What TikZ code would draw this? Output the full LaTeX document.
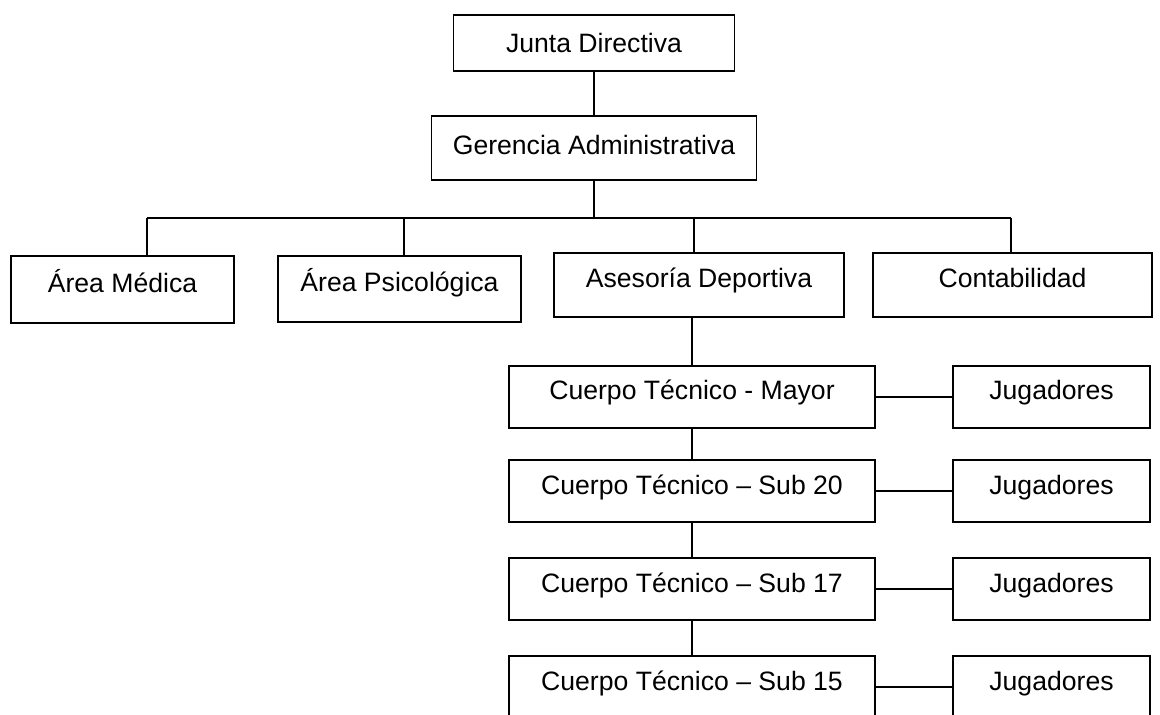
\documentclass[tikz,border=0pt]{standalone}
\usepackage{fontspec}
\setmainfont{Liberation Sans}
\tikzset{
  caja/.style={draw, line width=0.8pt, text height=10pt, text depth=7pt,
    font=\fontsize{13.3}{16}\selectfont},
  enlace/.style={line width=0.8pt},
}
\begin{document}
\begin{tikzpicture}[x=0.5pt, y=-0.5pt]
    \useasboundingbox (0,0) rectangle (1160,715);
    \clip (0,0) rectangle (1160,715);

    % Direccion
    \node[caja, minimum width=140.5pt, minimum height=28pt, text depth=0.5pt] (junta) at (594,43) {Junta Directiva};
    \node[caja, minimum width=162.5pt, minimum height=32pt, text depth=3.5pt] (gerencia) at (594,148) {Gerencia Administrativa};
    \draw[enlace] (junta.south) -- (gerencia.north);

    % Areas
    \node[caja, minimum width=111.5pt, minimum height=33.5pt] (medica) at (122.5,289.5) {Área Médica};
    \node[caja, minimum width=121.5pt, minimum height=33pt] (psico) at (399.5,289) {Área Psicológica};
    \node[caja, minimum width=145pt, minimum height=32pt] (asesoria) at (699,285) {Asesoría Deportiva};
    \node[caja, minimum width=139.5pt, minimum height=32pt] (conta) at (1012.5,285) {Contabilidad};

    \coordinate (b1) at (147,218);
    \coordinate (b2) at (404,218);
    \coordinate (b3) at (694,218);
    \coordinate (b4) at (1011,218);
    \draw[enlace] (b1) -- (b4);
    \draw[enlace] (gerencia.south) -- (gerencia.south |- b1);
    \foreach \c/\n in {b1/medica, b2/psico, b3/asesoria, b4/conta}
        \draw[enlace] (\c) -- (\c |- \n.north);

    % Cuerpos tecnicos y jugadores
    \foreach \n/\t/\y in {mayor/{Cuerpo Técnico - Mayor}/397, sub20/{Cuerpo Técnico – Sub 20}/491,
                          sub17/{Cuerpo Técnico – Sub 17}/589, sub15/{Cuerpo Técnico – Sub 15}/687} {
        \node[caja, minimum width=183pt, minimum height=31pt] (ct-\n) at (692,\y) {\t};
        \node[caja, minimum width=98.5pt, minimum height=31pt] (jug-\n) at (1051.5,\y) {Jugadores};
        \draw[enlace] (ct-\n.east) -- (jug-\n.west);
    }
    \draw[enlace] (ct-mayor.north) -- (ct-mayor.north |- asesoria.south);
    \draw[enlace] (ct-mayor.south) -- (ct-sub20.north);
    \draw[enlace] (ct-sub20.south) -- (ct-sub17.north);
    \draw[enlace] (ct-sub17.south) -- (ct-sub15.north);
\end{tikzpicture}
\end{document}
